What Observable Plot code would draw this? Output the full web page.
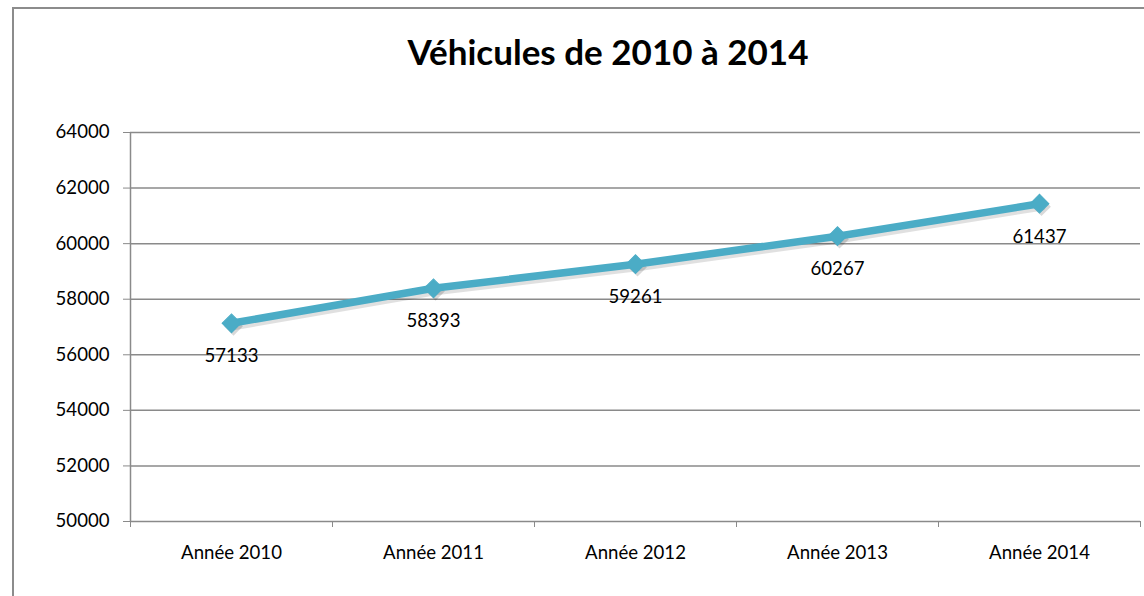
<!DOCTYPE html>
<html>
<head>
<meta charset="utf-8">
<script src="https://cdn.jsdelivr.net/npm/d3@7"></script>
<script src="https://cdn.jsdelivr.net/npm/@observablehq/plot@0.6"></script>
<style>
  html, body { margin: 0; padding: 0; background: #fff; }
  #wrap { position: relative; width: 1144px; height: 596px; overflow: hidden; font-family: Lato, "Open Sans", sans-serif; }
  #frame { position: absolute; left: 12px; top: 7px; width: 1140px; height: 600px; border-left: 2px solid #8c8c8c; border-top: 2px solid #8c8c8c; box-sizing: border-box; }
  #title { position: absolute; left: 0; width: 1216px; top: 30px; text-align: center; font-weight: bold; font-size: 35px; color: #000; }
  #chart { position: absolute; left: 0; top: 0; }
</style>
</head>
<body>
<div id="wrap">
  <div id="frame"></div>
  <div id="chart"></div>
  <div id="title">Véhicules de 2010 à 2014</div>
</div>
<script>
const categories = ["Année 2010", "Année 2011", "Année 2012", "Année 2013", "Année 2014"];
const values = [57133, 58393, 59261, 60267, 61437];
const yTicks = [50000, 52000, 54000, 56000, 58000, 60000, 62000, 64000];

const data = categories.map((c, i) => ({cat: c, idx: i + 0.5, value: values[i]}));
const bounds = d3.range(categories.length + 1);
const centers = categories.map((c, i) => i + 0.5);

const color = "#4BACC6";
const gridColor = "#8a8a8a";

const chart = Plot.plot({
  width: 1144,
  height: 596,
  marginLeft: 130,
  marginRight: 4,
  marginTop: 132,
  marginBottom: 75,
  style: {fontFamily: "Lato, 'Open Sans', sans-serif", fontSize: "18.6px", color: "#000", background: "transparent"},
  x: {type: "linear", domain: [0, categories.length]},
  y: {domain: [50000, 64000]},
  marks: [
    Plot.ruleY(yTicks, {stroke: gridColor, strokeWidth: 1.5}),
    Plot.ruleX([0], {stroke: gridColor, strokeWidth: 1.5}),
    Plot.axisY({ticks: yTicks, tickSize: 7, tickPadding: 14, stroke: gridColor, tickFormat: d => String(d), label: null, fill: "#000"}),
    Plot.axisX({ticks: bounds, tickSize: 6, tickFormat: () => "", stroke: gridColor, label: null}),
    Plot.axisX({ticks: centers, tickSize: 0, tickPadding: 24, tickFormat: d => categories[Math.floor(d)], label: null, fill: "#000"}),
    // shadow
    Plot.lineY(data, {x: "idx", y: "value", stroke: "#000", strokeOpacity: 0.12, strokeWidth: 8, dx: 2, dy: 3}),
    Plot.dot(data, {x: "idx", y: "value", symbol: "square", r: 7.5, rotate: 45, fill: "#000", fillOpacity: 0.15, dx: 2, dy: 3}),
    Plot.lineY(data, {x: "idx", y: "value", stroke: color, strokeWidth: 7.5}),
    Plot.dot(data, {x: "idx", y: "value", symbol: "square", r: 7.5, rotate: 45, fill: color, stroke: color, strokeWidth: 1}),
    Plot.text(data, {x: "idx", y: "value", text: d => String(d.value), dy: 33, fill: "#000", fontSize: 18.6})
  ]
});
document.getElementById("chart").appendChild(chart);
</script>
</body>
</html>
